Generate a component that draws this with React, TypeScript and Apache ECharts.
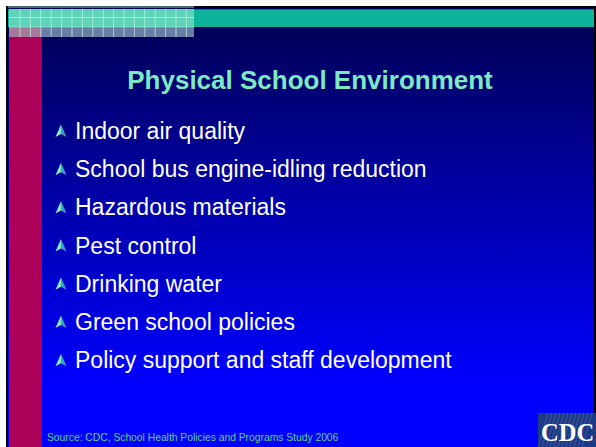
import React, { useEffect, useRef } from "react";
import * as echarts from "echarts";

const titleText = "Physical School Environment";
const bulletItems = [
  "Indoor air quality",
  "School bus engine-idling reduction",
  "Hazardous materials",
  "Pest control",
  "Drinking water",
  "Green school policies",
  "Policy support and staff development",
];
const sourceText = "Source: CDC, School Health Policies and Programs Study 2006";
const logoText = "CDC";

const FONT = "'Liberation Sans', Arial, Helvetica, sans-serif";

export default function App() {
  const ref = useRef<HTMLDivElement>(null);
  useEffect(() => {
    if (!ref.current) return;
    const chart = echarts.init(ref.current, null, { renderer: "svg" });
    const els: any[] = [];
    // outer black border
    els.push({ type: "rect", shape: { x: 6, y: 6, width: 590, height: 441 }, style: { fill: "#000000" } });
    // main gradient
    els.push({
      type: "rect",
      shape: { x: 8, y: 8, width: 586, height: 439 },
      style: {
        fill: {
          type: "linear", x: 0, y: 0, x2: 0, y2: 1,
          colorStops: [
            { offset: 0, color: "#00005a" },
            { offset: 0.066, color: "#00005e" },
            { offset: 0.86, color: "#0000ff" },
            { offset: 1, color: "#0000ff" },
          ],
        },
      },
    });
    // teal band
    els.push({ type: "rect", shape: { x: 8, y: 9, width: 586, height: 18 }, style: { fill: "#0cb39a" } });
    els.push({ type: "line", shape: { x1: 8, y1: 9.5, x2: 594, y2: 9.5 }, style: { stroke: "#0a7f6e", lineWidth: 1 } });
    // magenta bar
    els.push({ type: "rect", shape: { x: 9, y: 37, width: 33, height: 410 }, style: { fill: "#ad0058" } });
    // checkered area
    els.push({ type: "rect", shape: { x: 9, y: 9, width: 185, height: 18 }, style: { fill: "#5fd3b8" } });
    els.push({ type: "rect", shape: { x: 9, y: 27, width: 33, height: 10 }, style: { fill: "#a6789c" } });
    els.push({ type: "rect", shape: { x: 42, y: 27, width: 152, height: 10 }, style: { fill: "#687ea6" } });
    for (let x = 20; x < 194; x += 10.4) {
      els.push({ type: "line", shape: { x1: x, y1: 9, x2: x, y2: 37 }, style: { stroke: "rgba(190,245,225,0.7)", lineWidth: 1 } });
    }
    els.push({ type: "line", shape: { x1: 9, y1: 17.5, x2: 194, y2: 17.5 }, style: { stroke: "rgba(190,245,225,0.7)", lineWidth: 1 } });
    els.push({ type: "line", shape: { x1: 9, y1: 27, x2: 194, y2: 27 }, style: { stroke: "rgba(190,245,225,0.5)", lineWidth: 1 } });
    els.push({ type: "line", shape: { x1: 8, y1: 7, x2: 194, y2: 7 }, style: { stroke: "#4a6a6a", lineWidth: 2 } });

    // title
    els.push({
      type: "text", x: 310, y: 80,
      style: { text: titleText, fill: "#7de8c1", font: `bold 26px ${FONT}`, textAlign: "center", textVerticalAlign: "middle" },
    });
    // bullets
    bulletItems.forEach((t, i) => {
      const cy = 131 + i * 38.2;
      els.push({
        type: "polygon",
        x: 61, y: cy,
        shape: { points: [[0, -6.5], [5.5, 6], [0, 3], [-5.5, 6]] },
        style: {
          fill: {
            type: "linear", x: 0, y: 0, x2: 1, y2: 0,
            colorStops: [
              { offset: 0, color: "#90f5c4" },
              { offset: 0.5, color: "#78e8bc" },
              { offset: 0.5, color: "#3f9fcc" },
              { offset: 1, color: "#3f9fcc" },
            ],
          },
        },
      });
      els.push({
        type: "text", x: 75, y: cy,
        style: { text: t, fill: "#ffffff", font: `23px ${FONT}`, textAlign: "left", textVerticalAlign: "middle" },
      });
    });
    // source
    els.push({
      type: "text", x: 47, y: 437,
      style: { text: sourceText, fill: "#63d47f", font: `10.3px ${FONT}`, textAlign: "left", textVerticalAlign: "middle" },
    });
    // CDC logo
    els.push({ type: "rect", shape: { x: 538, y: 413, width: 58, height: 34 }, style: { fill: "#1d3a86" } });
    for (let x = 538; x < 586; x += 4) {
      els.push({ type: "line", shape: { x1: x, y1: 447, x2: x + 10, y2: 413 }, style: { stroke: "rgba(120,150,210,0.3)", lineWidth: 1 } });
    }
    els.push({
      type: "text", x: 541, y: 432,
      style: { text: logoText, fill: "#ffffff", font: `bold 24.5px 'Liberation Serif', 'DejaVu Serif', serif`, textAlign: "left", textVerticalAlign: "middle" },
    });

    chart.setOption({
      animation: false,
      backgroundColor: "#ffffff",
      graphic: { elements: els },
    });
    return () => chart.dispose();
  }, []);
  return <div ref={ref} style={{ position: "fixed", left: 0, top: 0, width: 596, height: 447 }} />;
}
